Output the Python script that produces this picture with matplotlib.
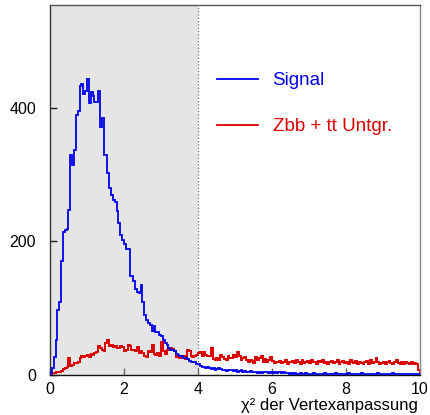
import numpy as np
import matplotlib
matplotlib.use("Agg")
import matplotlib.pyplot as plt
from matplotlib.lines import Line2D

plt.rcParams['font.family'] = ['Liberation Sans', 'DejaVu Sans']

# 200 bins from 0 to 10
x_min, x_max, n_bins = 0.0, 10.0, 200
edges = np.linspace(x_min, x_max, n_bins + 1)

signal = [
    3, 10, 27, 52, 97, 110, 170, 214, 217, 218,
    247, 330, 315, 337, 390, 395, 433, 435, 420, 425,
    443, 407, 424, 418, 409, 409, 425, 372, 385, 330,
    330, 302, 280, 270, 262, 259, 245, 228, 210, 202,
    196, 189, 189, 148, 148, 141, 129, 125, 123, 135,
    110, 90, 82, 78, 75, 66, 73, 65, 64, 60,
    58, 52, 48, 45, 40, 37, 38, 36, 31, 30,
    29, 28, 25, 26, 24, 21, 20, 20, 19, 17,
    16, 13, 12, 12, 11, 12, 10, 9, 10, 8,
    9, 10, 9, 7, 8, 6, 7, 7, 8, 6,
    7, 5, 6, 7, 5, 6, 4, 5, 6, 5,
    4, 5, 3, 4, 3, 5, 4, 4, 3, 4,
    3, 4, 3, 5, 4, 3, 4, 3, 3, 2,
    3, 2, 3, 2, 2, 3, 2, 2, 3, 2,
    2, 2, 3, 2, 2, 1, 2, 2, 3, 2,
    2, 2, 1, 2, 3, 2, 2, 1, 2, 2,
    2, 3, 2, 2, 1, 2, 2, 2, 3, 2,
    1, 2, 2, 2, 2, 1, 2, 3, 2, 2,
    2, 1, 2, 2, 2, 3, 2, 1, 2, 2,
    2, 2, 1, 2, 2, 2, 1, 2, 2, 1,
]

background = [
    1, 3, 3, 4, 5, 5, 6, 9, 10, 12,
    25, 14, 15, 18, 18, 19, 26, 28, 27, 28,
    30, 27, 32, 30, 33, 34, 43, 40, 37, 36,
    48, 52, 43, 45, 42, 44, 40, 41, 43, 42,
    36, 38, 45, 44, 38, 37, 36, 42, 33, 36,
    33, 28, 27, 36, 35, 45, 31, 30, 33, 29,
    49, 36, 32, 38, 41, 40, 39, 36, 27, 28,
    26, 29, 28, 24, 37, 36, 28, 27, 29, 30,
    33, 34, 28, 35, 30, 28, 29, 40, 24, 23,
    25, 22, 30, 27, 24, 22, 28, 26, 25, 30,
    27, 34, 28, 22, 25, 27, 23, 20, 22, 21,
    18, 27, 23, 26, 28, 20, 24, 19, 22, 27,
    21, 18, 20, 19, 21, 18, 20, 22, 17, 20,
    19, 21, 18, 23, 20, 17, 22, 18, 19, 21,
    18, 22, 20, 19, 17, 21, 19, 23, 18, 20,
    17, 19, 21, 18, 20, 22, 17, 19, 21, 18,
    20, 17, 22, 19, 18, 21, 17, 20, 18, 16,
    19, 21, 17, 22, 18, 20, 26, 19, 17, 18,
    20, 17, 19, 21, 18, 16, 19, 22, 18, 17,
    19, 17, 20, 18, 16, 19, 17, 18, 16, 8,
]

cut_value = 4.0
x_ticks = [0, 2, 4, 6, 8, 10]
y_ticks = [0, 200, 400]
y_max = 554
labels = ["Signal", "Zbb + tt Untgr."]
x_title = "χ² der Vertexanpassung"

blue = '#0000ee'
red = '#dd0000'

fig = plt.figure(figsize=(4.31, 4.15), dpi=100)
ax = fig.add_axes([50/431, 1 - 375/415, 370/431, 370/415])

ax.axvspan(x_min, cut_value, color='#e5e5e5', lw=0, zorder=0)
ax.axvline(cut_value, color='#555555', lw=0.8, ls=(0, (1, 2)), zorder=1)

ax.stairs(signal, edges, color=blue, lw=1.3, zorder=3)
ax.stairs(background, edges, color=red, lw=1.4, zorder=2)

ax.set_xlim(x_min, x_max)
ax.set_ylim(0, y_max)
ax.set_xticks(x_ticks)
ax.set_yticks(y_ticks)
ax.tick_params(axis='x', direction='in', length=5, width=1, color='#666666',
               labelsize=11.5, pad=5)
ax.tick_params(axis='y', direction='in', length=5, width=1, color='#222222',
               labelsize=11.5, pad=10)
ax.minorticks_off()

ax.spines['left'].set_color('#333333')
ax.spines['bottom'].set_color('#111111')
ax.spines['top'].set_color('#555555')
ax.spines['right'].set_color('#888888')
for s in ax.spines.values():
    s.set_linewidth(1.0)

ax.set_xlabel(x_title, fontsize=12, ha='right', va='top')
ax.xaxis.set_label_coords(0.995, -0.062)

handles = [Line2D([0], [0], color=blue, lw=1.3), Line2D([0], [0], color=red, lw=1.3)]
leg = ax.legend(handles, labels, loc='upper left', bbox_to_anchor=(0.452, 0.818),
                frameon=False, fontsize=13.5, handlelength=2.2, handletextpad=0.75,
                labelspacing=1.52, borderpad=0, borderaxespad=0)
for t, c in zip(leg.get_texts(), [blue, red]):
    t.set_color(c)

fig.savefig('out.png', dpi=100)
